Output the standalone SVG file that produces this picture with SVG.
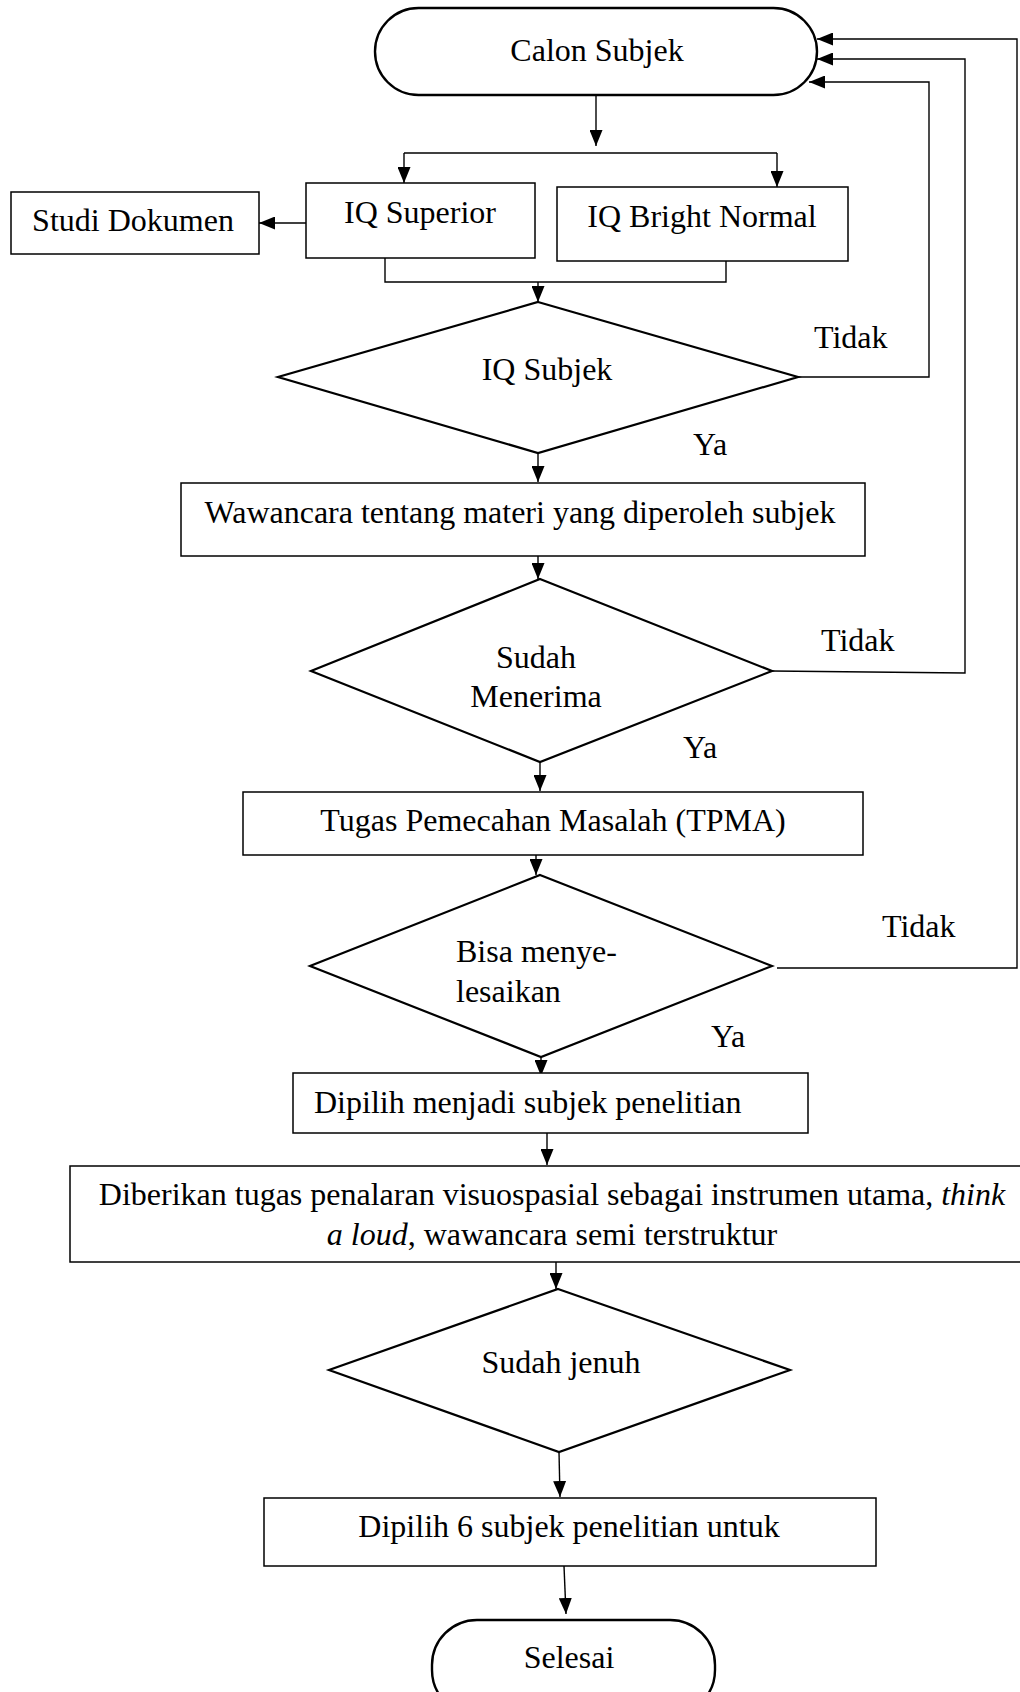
<svg xmlns="http://www.w3.org/2000/svg" width="1020" height="1692" viewBox="0 0 1020 1692">
  <style>
    text { font-family: "Liberation Serif", "Times New Roman", serif; font-size: 32px; fill: #000; }
    .c { text-anchor: middle; }
    .box { fill: #fff; stroke: #000; stroke-width: 1.5; }
    .dec { fill: #fff; stroke: #000; stroke-width: 2.2; }
    .term { fill: #fff; stroke: #000; stroke-width: 2.4; }
    .edge { fill: none; stroke: #000; stroke-width: 1.4; }
    .arr { marker-end: url(#head); }
    .it { font-style: italic; }
  </style>
  <defs>
    <marker id="head" viewBox="0 0 16 13" refX="16" refY="6.5" markerWidth="16" markerHeight="13" markerUnits="userSpaceOnUse" orient="auto">
      <path d="M0,0 L16,6.5 L0,13 z" fill="#000"/>
    </marker>
  </defs>
  <rect width="1020" height="1692" fill="#fff"/>

  <!-- connectors -->
  <g id="connectors">
    <path class="edge arr" d="M596,95 V146"/>
    <path class="edge" d="M404,153 H777"/>
    <path class="edge arr" d="M404,153 V183"/>
    <path class="edge arr" d="M777,153 V187"/>
    <path class="edge arr" d="M306,223 H259"/>
    <path class="edge" d="M385,258 V282 H726 V261"/>
    <path class="edge arr" d="M538,282 V302"/>
    <path class="edge arr" d="M798,377 H929 V82 H809"/>
    <path class="edge arr" d="M538,453 V482"/>
    <path class="edge arr" d="M538,556 V579"/>
    <path class="edge arr" d="M772,671 L965,673 V59 H817"/>
    <path class="edge arr" d="M540,762 V791"/>
    <path class="edge arr" d="M536,855 V875"/>
    <path class="edge arr" d="M777,968 H1017 V39 H817"/>
    <path class="edge arr" d="M541,1057 V1076"/>
    <path class="edge arr" d="M547,1133 V1165"/>
    <path class="edge arr" d="M556,1262 V1289"/>
    <path class="edge arr" d="M559,1452 L560,1497"/>
    <path class="edge arr" d="M564,1566 L566,1614"/>
  </g>

  <!-- start terminator -->
  <g id="calon-subjek">
    <rect class="term" x="375" y="8" width="442" height="87" rx="43.5" ry="43.5"/>
    <text class="c" x="597" y="61">Calon Subjek</text>
  </g>

  <g id="studi-dokumen">
    <rect class="box" x="11" y="192" width="248" height="62"/>
    <text class="c" x="133" y="231">Studi Dokumen</text>
  </g>

  <g id="iq-superior">
    <rect class="box" x="306" y="183" width="229" height="75"/>
    <text class="c" x="420" y="223">IQ Superior</text>
  </g>

  <g id="iq-bright-normal">
    <rect class="box" x="557" y="187" width="291" height="74"/>
    <text class="c" x="702" y="227">IQ Bright Normal</text>
  </g>

  <g id="iq-subjek">
    <polygon class="dec" points="538,302 798,377 538,453 278,377"/>
    <text class="c" x="547" y="380">IQ Subjek</text>
    <text x="814" y="348">Tidak</text>
    <text x="693" y="455">Ya</text>
  </g>

  <g id="wawancara">
    <rect class="box" x="181" y="483" width="684" height="73"/>
    <text class="c" x="520" y="523">Wawancara tentang materi yang diperoleh subjek</text>
  </g>

  <g id="sudah-menerima">
    <polygon class="dec" points="540,579 772,671 540,762 311,671"/>
    <text class="c" x="536" y="668">Sudah</text>
    <text class="c" x="536" y="707">Menerima</text>
    <text x="821" y="651">Tidak</text>
    <text x="683" y="758">Ya</text>
  </g>

  <g id="tpma">
    <rect class="box" x="243" y="792" width="620" height="63"/>
    <text class="c" x="553" y="831">Tugas Pemecahan Masalah (TPMA)</text>
  </g>

  <g id="bisa-menyelesaikan">
    <polygon class="dec" points="540,875 772,966 541,1057 310,966"/>
    <text x="456" y="962">Bisa menye-</text>
    <text x="456" y="1002">lesaikan</text>
    <text x="882" y="937">Tidak</text>
    <text x="711" y="1047">Ya</text>
  </g>

  <g id="dipilih-subjek">
    <rect class="box" x="293" y="1073" width="515" height="60"/>
    <text x="314" y="1113">Dipilih menjadi subjek penelitian</text>
  </g>

  <g id="diberikan-tugas">
    <rect class="box" x="70" y="1166" width="970" height="96"/>
    <text class="c" x="552" y="1205">Diberikan tugas penalaran visuospasial sebagai instrumen utama, <tspan class="it">think</tspan></text>
    <text class="c" x="552" y="1245"><tspan class="it">a loud</tspan>, wawancara semi terstruktur</text>
  </g>

  <g id="sudah-jenuh">
    <polygon class="dec" points="558,1289 790,1370 559,1452 329,1370"/>
    <text class="c" x="561" y="1373">Sudah jenuh</text>
  </g>

  <g id="dipilih-enam">
    <rect class="box" x="264" y="1498" width="612" height="68"/>
    <text class="c" x="569" y="1537">Dipilih 6 subjek penelitian untuk</text>
  </g>

  <!-- end terminator -->
  <g id="selesai">
    <rect class="term" x="432" y="1620" width="283" height="95" rx="45" ry="45"/>
    <text class="c" x="569" y="1668">Selesai</text>
  </g>
</svg>
